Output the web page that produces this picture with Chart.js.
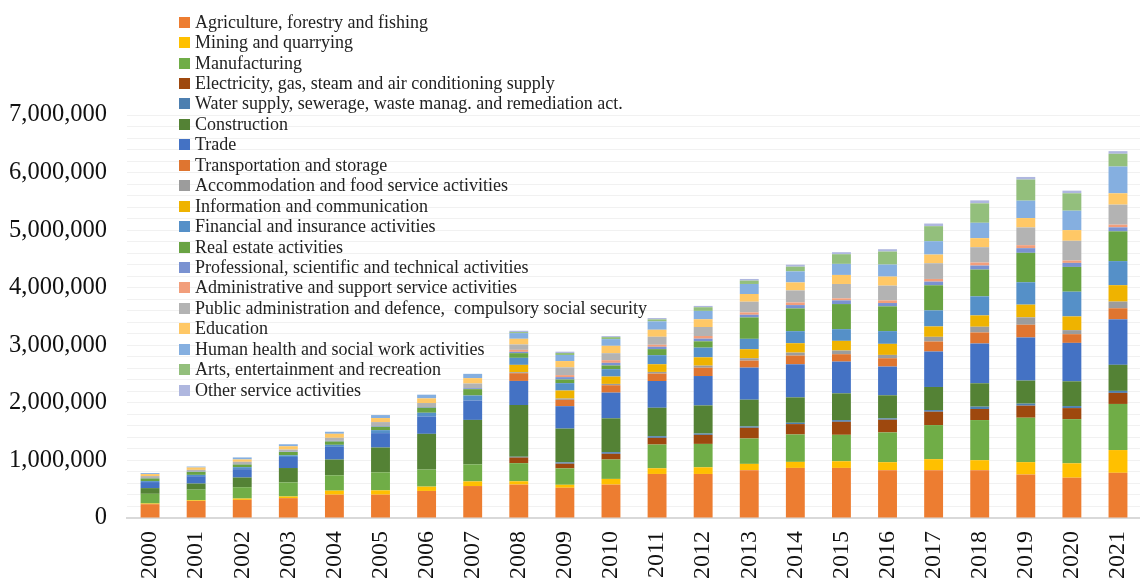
<!DOCTYPE html>
<html>
<head>
<meta charset="utf-8">
<script src="https://cdn.jsdelivr.net/npm/chart.js@4"></script>
<style>
  html, body { margin: 0; padding: 0; background: #fff; overflow: hidden; width: 1140px; height: 578px; }
  #wrap { position: relative; width: 1160px; height: 578px; }
  #legend { position: absolute; left: 179px; top: 12px; font-family: "Liberation Serif", serif; font-size: 18px; color: #222; white-space: pre; }
  #legend .row { display: flex; align-items: center; height: 20.45px; }
  #legend .box { width: 11px; height: 11px; margin-right: 5px; flex: none; }
</style>
</head>
<body>
<div id="wrap">
  <canvas id="c" width="1160" height="578"></canvas>
  <div id="legend"></div>
</div>
<script>
// Years on the category axis
const years = ['2000','2001','2002','2003','2004','2005','2006','2007','2008','2009','2010',
               '2011','2012','2013','2014','2015','2016','2017','2018','2019','2020','2021'];

// Sector names, bottom of the stack first
const sectors = [
  'Agriculture, forestry and fishing',
  'Mining and quarrying',
  'Manufacturing',
  'Electricity, gas, steam and air conditioning supply',
  'Water supply, sewerage, waste manag. and remediation act.',
  'Construction',
  'Trade',
  'Transportation and storage',
  'Accommodation and food service activities',
  'Information and communication',
  'Financial and insurance activities',
  'Real estate activities',
  'Professional, scientific and technical activities',
  'Administrative and support service activities',
  'Public administration and defence,  compulsory social security',
  'Education',
  'Human health and social work activities',
  'Arts, entertainment and recreation',
  'Other service activities'
];

// Value added per sector and year
const agriculture   = [240000,295000,315000,345000,405000,405000,470000,555000,580000,525000,580000,765000,765000,830000,870000,870000,830000,830000,830000,755000,700000,785000];
const mining        = [12000,12000,23000,29000,70000,75000,75000,81000,58000,52000,99000,99000,116000,110000,105000,116000,139000,192000,174000,215000,250000,395000];
const manufacturing = [168000,186000,197000,244000,267000,314000,296000,296000,314000,285000,337000,412000,406000,441000,476000,459000,517000,592000,697000,772000,767000,801000];
const electricity   = [0,0,0,0,0,0,0,0,99000,81000,99000,116000,157000,186000,180000,226000,221000,232000,192000,209000,192000,192000];
const water         = [0,0,0,0,0,0,0,0,12000,23000,29000,29000,23000,23000,23000,29000,23000,29000,41000,35000,35000,35000];
const construction  = [99000,105000,168000,250000,273000,430000,621000,772000,900000,587000,587000,494000,488000,465000,441000,465000,401000,401000,406000,401000,430000,453000];
const trade         = [105000,128000,145000,192000,221000,250000,302000,337000,418000,389000,447000,465000,511000,557000,575000,552000,499000,616000,691000,749000,668000,790000];
const transport     = [0,0,0,0,0,0,0,0,134000,110000,128000,128000,145000,122000,151000,128000,145000,174000,192000,221000,151000,192000];
const accommodation = [0,0,0,0,0,0,0,0,17000,23000,23000,29000,35000,41000,52000,64000,58000,81000,99000,128000,70000,116000];
const information   = [0,0,0,0,0,0,0,0,128000,139000,128000,134000,145000,157000,163000,168000,192000,180000,197000,221000,238000,285000];
const financial     = [17000,23000,35000,29000,35000,52000,64000,87000,122000,128000,128000,157000,168000,180000,209000,203000,221000,279000,331000,389000,430000,418000];
const realEstate    = [46000,52000,46000,58000,58000,58000,87000,110000,81000,64000,64000,105000,110000,372000,395000,436000,430000,436000,465000,511000,430000,517000];
const professional  = [6000,6000,6000,6000,12000,12000,12000,17000,23000,41000,46000,41000,46000,46000,58000,64000,58000,64000,70000,81000,70000,70000];
const administrative= [0,0,0,0,0,0,0,0,35000,35000,46000,35000,46000,41000,46000,35000,46000,46000,52000,52000,41000,46000];
const publicAdmin   = [35000,29000,41000,35000,52000,70000,70000,81000,93000,134000,122000,139000,157000,186000,209000,250000,256000,273000,267000,308000,343000,348000];
const education     = [35000,41000,41000,58000,70000,70000,81000,93000,99000,110000,128000,122000,134000,134000,139000,157000,157000,151000,157000,163000,186000,197000];
const health        = [17000,17000,35000,35000,35000,52000,64000,75000,99000,105000,116000,145000,145000,174000,192000,192000,209000,232000,267000,302000,337000,465000];
const arts          = [0,0,0,0,0,0,0,0,17000,35000,35000,35000,64000,58000,81000,168000,226000,261000,337000,366000,302000,221000];
const otherServices = [0,0,0,0,0,0,0,0,23000,23000,17000,23000,23000,29000,35000,35000,41000,46000,52000,46000,46000,46000];

// Y axis: labelled every million, light grid every 200,000
const yMax = 7000000;
const yStep = 200000;
const yLabelEvery = 1000000;

const seriesValues = [agriculture, mining, manufacturing, electricity, water, construction, trade,
  transport, accommodation, information, financial, realEstate, professional, administrative,
  publicAdmin, education, health, arts, otherServices];

const colors = ['#ED7D31','#FFC000','#70AD47','#9E480E','#4D7FB0','#548235','#4472C4','#DF7530',
  '#9C9C9C','#EFB300','#5590C8','#69A343','#7A92D1','#F29E7B','#B3B3B3','#FFC866','#85AFE0',
  '#93BF7C','#AFB7DF'];

// Legend drawn as an overlay list in the upper left of the plot
const legendEl = document.getElementById('legend');
sectors.forEach((name, i) => {
  const row = document.createElement('div');
  row.className = 'row';
  const box = document.createElement('span');
  box.className = 'box';
  box.style.background = colors[i];
  const txt = document.createElement('span');
  txt.textContent = name;
  row.appendChild(box);
  row.appendChild(txt);
  legendEl.appendChild(row);
});

new Chart(document.getElementById('c'), {
  type: 'bar',
  data: {
    labels: years,
    datasets: sectors.map((name, i) => ({
      label: name,
      data: seriesValues[i],
      backgroundColor: colors[i],
      borderWidth: 0,
      categoryPercentage: 1,
      barPercentage: 0.41
    }))
  },
  options: {
    responsive: false,
    animation: false,
    layout: { padding: { top: 115, right: 9.5, left: 0, bottom: 0 } },
    plugins: { legend: { display: false }, tooltip: { enabled: false } },
    scales: {
      x: {
        stacked: true,
        grid: { display: false, drawTicks: false },
        border: { color: '#d9d9d9', width: 2 },
        ticks: {
          minRotation: 90, maxRotation: 90, padding: 13, color: '#111',
          font: { family: 'Liberation Serif', size: 24 }
        },
        afterFit(scale) { scale.height = 60; }
      },
      y: {
        stacked: true,
        min: 0, max: yMax,
        grid: { color: '#f1f1f1', drawTicks: false },
        border: { display: false },
        ticks: {
          stepSize: yStep, autoSkip: false, padding: 20, color: '#111',
          font: { family: 'Liberation Serif', size: 24.5 },
          callback: v => (v % yLabelEvery === 0 ? v.toLocaleString('en-US') : '')
        },
        afterFit(scale) { scale.width = 127; }
      }
    }
  }
});
</script>
</body>
</html>
